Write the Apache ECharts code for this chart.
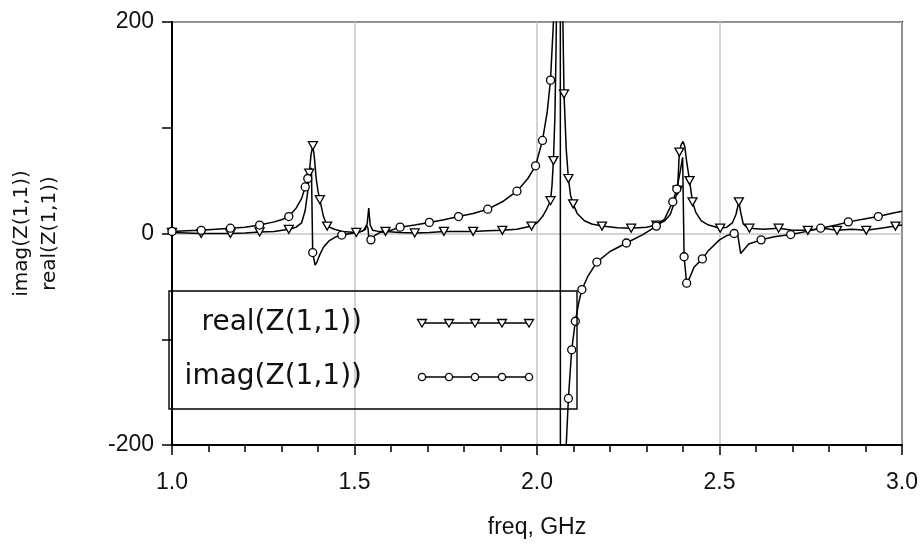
<!DOCTYPE html>
<html>
<head>
<meta charset="utf-8">
<script src="https://cdn.jsdelivr.net/npm/echarts@6/dist/echarts.min.js"></script>
<style>
  html, body { margin: 0; padding: 0; background: #fff; }
  #chart { width: 921px; height: 544px; }
</style>
</head>
<body>
<div id="chart"></div>
<script>
// Z(1,1) of the resonator, frequency in GHz, impedance in ohms
const realFreq = [1.00,1.04,1.08,1.12,1.16,1.20,1.24,1.28,1.32,1.34,1.355,1.365,1.372,1.376,1.381,1.386,1.390,1.395,1.400,1.405,1.415,1.425,1.445,1.465,1.505,1.52,1.53,1.535,1.539,1.543,1.55,1.565,1.585,1.625,1.665,1.705,1.745,1.785,1.825,1.865,1.905,1.945,1.985,2.000,2.015,2.025,2.037,2.041,2.045,2.049,2.052,2.055,2.060,2.064,2.067,2.070,2.074,2.080,2.086,2.092,2.099,2.110,2.130,2.150,2.178,2.220,2.258,2.300,2.327,2.350,2.365,2.377,2.385,2.390,2.395,2.400,2.405,2.410,2.418,2.426,2.435,2.450,2.470,2.502,2.520,2.535,2.545,2.553,2.558,2.565,2.575,2.582,2.620,2.662,2.700,2.742,2.782,2.822,2.862,2.902,2.942,2.982,3.000];
const realVals = [1,0.5,0,0,0,0.5,1.5,2,4,6,10,22,40,57,75,83,72,52,40,32,16,7,4,2,1,2,4,10,24,8,3,2,2,1,0.5,1,2,2,2,2.5,3,4,7,10,16,22,31,45,69,110,170,260,420,450,330,220,132,80,52,36,28,19,12,9,7,5.5,5,6,8,12,18,30,41,77,84,87,82,68,50,30,20,12,8,5,6,10,18,30,20,9,6,5,4,5,3,3,5,3,4,3,5,7,8];
const realMarkFreq = [1.00,1.08,1.16,1.24,1.32,1.376,1.386,1.405,1.425,1.505,1.585,1.665,1.745,1.825,1.905,1.985,2.037,2.045,2.074,2.086,2.099,2.178,2.258,2.327,2.385,2.390,2.418,2.426,2.502,2.553,2.582,2.662,2.742,2.822,2.902,2.982];

const imagFreq = [1.00,1.04,1.08,1.12,1.16,1.20,1.24,1.28,1.30,1.32,1.34,1.355,1.365,1.372,1.378,1.382,1.3855,1.392,1.397,1.405,1.415,1.43,1.45,1.465,1.49,1.51,1.525,1.533,1.537,1.540,1.545,1.555,1.57,1.60,1.625,1.665,1.705,1.745,1.785,1.825,1.865,1.905,1.945,1.975,1.996,2.015,2.028,2.037,2.045,2.052,2.058,2.0635,2.0645,2.070,2.076,2.086,2.095,2.105,2.114,2.123,2.140,2.164,2.200,2.245,2.290,2.327,2.350,2.372,2.383,2.392,2.399,2.403,2.410,2.418,2.430,2.453,2.470,2.500,2.520,2.540,2.548,2.553,2.558,2.565,2.580,2.614,2.650,2.695,2.740,2.777,2.820,2.853,2.900,2.935,2.970,3.000];
const imagVals = [2,2.5,3,4,5,6,8,11,13,16,24,33,44,52,60,62,-18,-30,-27,-20,-13,-7,-3,-1.5,0,1,3,8,5,-8,-6,-2,1,3,6,8,10.5,13,16,19,23,30,40,52,64,88,115,145,200,280,450,1200,-1200,-450,-230,-156,-110,-83,-66,-53,-40,-27,-17,-9,-1,7,14,30,42,58,72,-22,-47,-42,-32,-24,-16,-6,-2,0,3,4,-19,-16,-10,-6,-3,-1,2,5,8,11,14,16,19,21];
const imagMarkFreq = [1.00,1.08,1.16,1.24,1.32,1.365,1.372,1.3855,1.465,1.545,1.625,1.705,1.785,1.865,1.945,1.996,2.015,2.037,2.086,2.095,2.105,2.123,2.164,2.245,2.327,2.372,2.383,2.403,2.410,2.453,2.540,2.614,2.695,2.777,2.853,2.935];

const legendNames = ['real(Z(1,1))', 'imag(Z(1,1))'];
const xAxisTitle = 'freq, GHz';
const yAxisTitle = 'imag(Z(1,1))\nreal(Z(1,1))';

const pairs = (xs, ys) => xs.map((x, i) => [x, ys[i]]);
const realSet = new Set(realMarkFreq);
const imagSet = new Set(imagMarkFreq);

const INK = '#000';
const labelFont = 'Liberation Sans, Arial, sans-serif';
const titleFont = 'DejaVu Sans, sans-serif';

// legend block: open frame with sample strokes carrying five markers each
const legendBox = { x: 169, y: 291, w: 408, h: 118 };
const rowY = [323, 377];
const sampleX = [422, 449, 475, 502, 529];
const graphics = [
  { type: 'rect', z: 100, shape: { x: legendBox.x, y: legendBox.y, width: legendBox.w, height: legendBox.h },
    style: { fill: 'none', stroke: INK, lineWidth: 1.4 } }
];
legendNames.forEach((name, r) => {
  const y = rowY[r];
  graphics.push({ type: 'text', z: 101,
    style: { text: name, x: 362, y: y, font: '28px ' + titleFont, fill: '#111', align: 'right', verticalAlign: 'middle' } });
  graphics.push({ type: 'line', z: 101,
    shape: { x1: sampleX[0], y1: y, x2: sampleX[sampleX.length - 1], y2: y },
    style: { stroke: INK, lineWidth: 1.5 } });
  sampleX.forEach(x => {
    if (r === 0) {
      graphics.push({ type: 'polygon', z: 102,
        shape: { points: [[x - 4.5, y - 3.5], [x + 4.5, y - 3.5], [x, y + 4]] },
        style: { fill: '#fff', stroke: INK, lineWidth: 1.3 } });
    } else {
      graphics.push({ type: 'circle', z: 102, shape: { cx: x, cy: y, r: 3.6 },
        style: { fill: '#fff', stroke: INK, lineWidth: 1.3 } });
    }
  });
});

const chart = echarts.init(document.getElementById('chart'), null, { renderer: 'canvas' });
chart.setOption({
  animation: false,
  backgroundColor: '#fff',
  grid: { left: 169, right: 18, top: 22, bottom: 97, show: true, borderColor: INK, borderWidth: 2, backgroundColor: 'transparent' },
  xAxis: {
    type: 'value', min: 1, max: 3, interval: 0.5,
    name: xAxisTitle, nameLocation: 'middle', nameGap: 71,
    nameTextStyle: { fontFamily: labelFont, fontSize: 23, color: '#111' },
    axisLine: { show: true, onZero: false, lineStyle: { color: INK, width: 2 } },
    axisTick: { show: true, inside: false, length: 10, lineStyle: { color: INK, width: 1.5 } },
    minorTick: { show: true, splitNumber: 5, length: 7, lineStyle: { color: INK, width: 1.5 } },
    axisLabel: { fontFamily: labelFont, fontSize: 23, color: '#111', margin: 26,
      formatter: v => v.toFixed(1) },
    splitLine: { show: true, lineStyle: { color: '#c4c4c4', width: 1.5 } },
    minorSplitLine: { show: false }
  },
  yAxis: {
    type: 'value', min: -200, max: 200, interval: 200,
    name: yAxisTitle, nameLocation: 'middle', nameRotate: 90, nameGap: 108,
    nameTextStyle: { fontFamily: titleFont, fontSize: 20, lineHeight: 28, color: '#111' },
    axisLine: { show: true, onZero: false, lineStyle: { color: INK, width: 2 } },
    axisTick: { show: true, inside: false, length: 10, lineStyle: { color: INK, width: 1.5 } },
    minorTick: { show: true, splitNumber: 2, length: 10, lineStyle: { color: INK, width: 1.5 } },
    axisLabel: { fontFamily: labelFont, fontSize: 23, color: '#111', margin: 18 },
    splitLine: { show: true, lineStyle: { color: '#c4c4c4', width: 1.5 } }
  },
  graphic: graphics,
  series: [
    {
      name: legendNames[0], type: 'line', data: pairs(realFreq, realVals),
      clip: true, showAllSymbol: true, smooth: false,
      symbol: v => realSet.has(v[0]) ? 'triangle' : 'none',
      symbolSize: [9, 8], symbolRotate: 180,
      lineStyle: { color: INK, width: 1.5 },
      itemStyle: { color: '#fff', borderColor: INK, borderWidth: 1.3 },
      emphasis: { disabled: true }
    },
    {
      name: legendNames[1], type: 'line', data: pairs(imagFreq, imagVals),
      clip: true, showAllSymbol: true, smooth: false,
      symbol: v => imagSet.has(v[0]) ? 'circle' : 'none',
      symbolSize: 8,
      lineStyle: { color: INK, width: 1.5 },
      itemStyle: { color: '#fff', borderColor: INK, borderWidth: 1.3 },
      emphasis: { disabled: true }
    }
  ]
});
</script>
</body>
</html>
